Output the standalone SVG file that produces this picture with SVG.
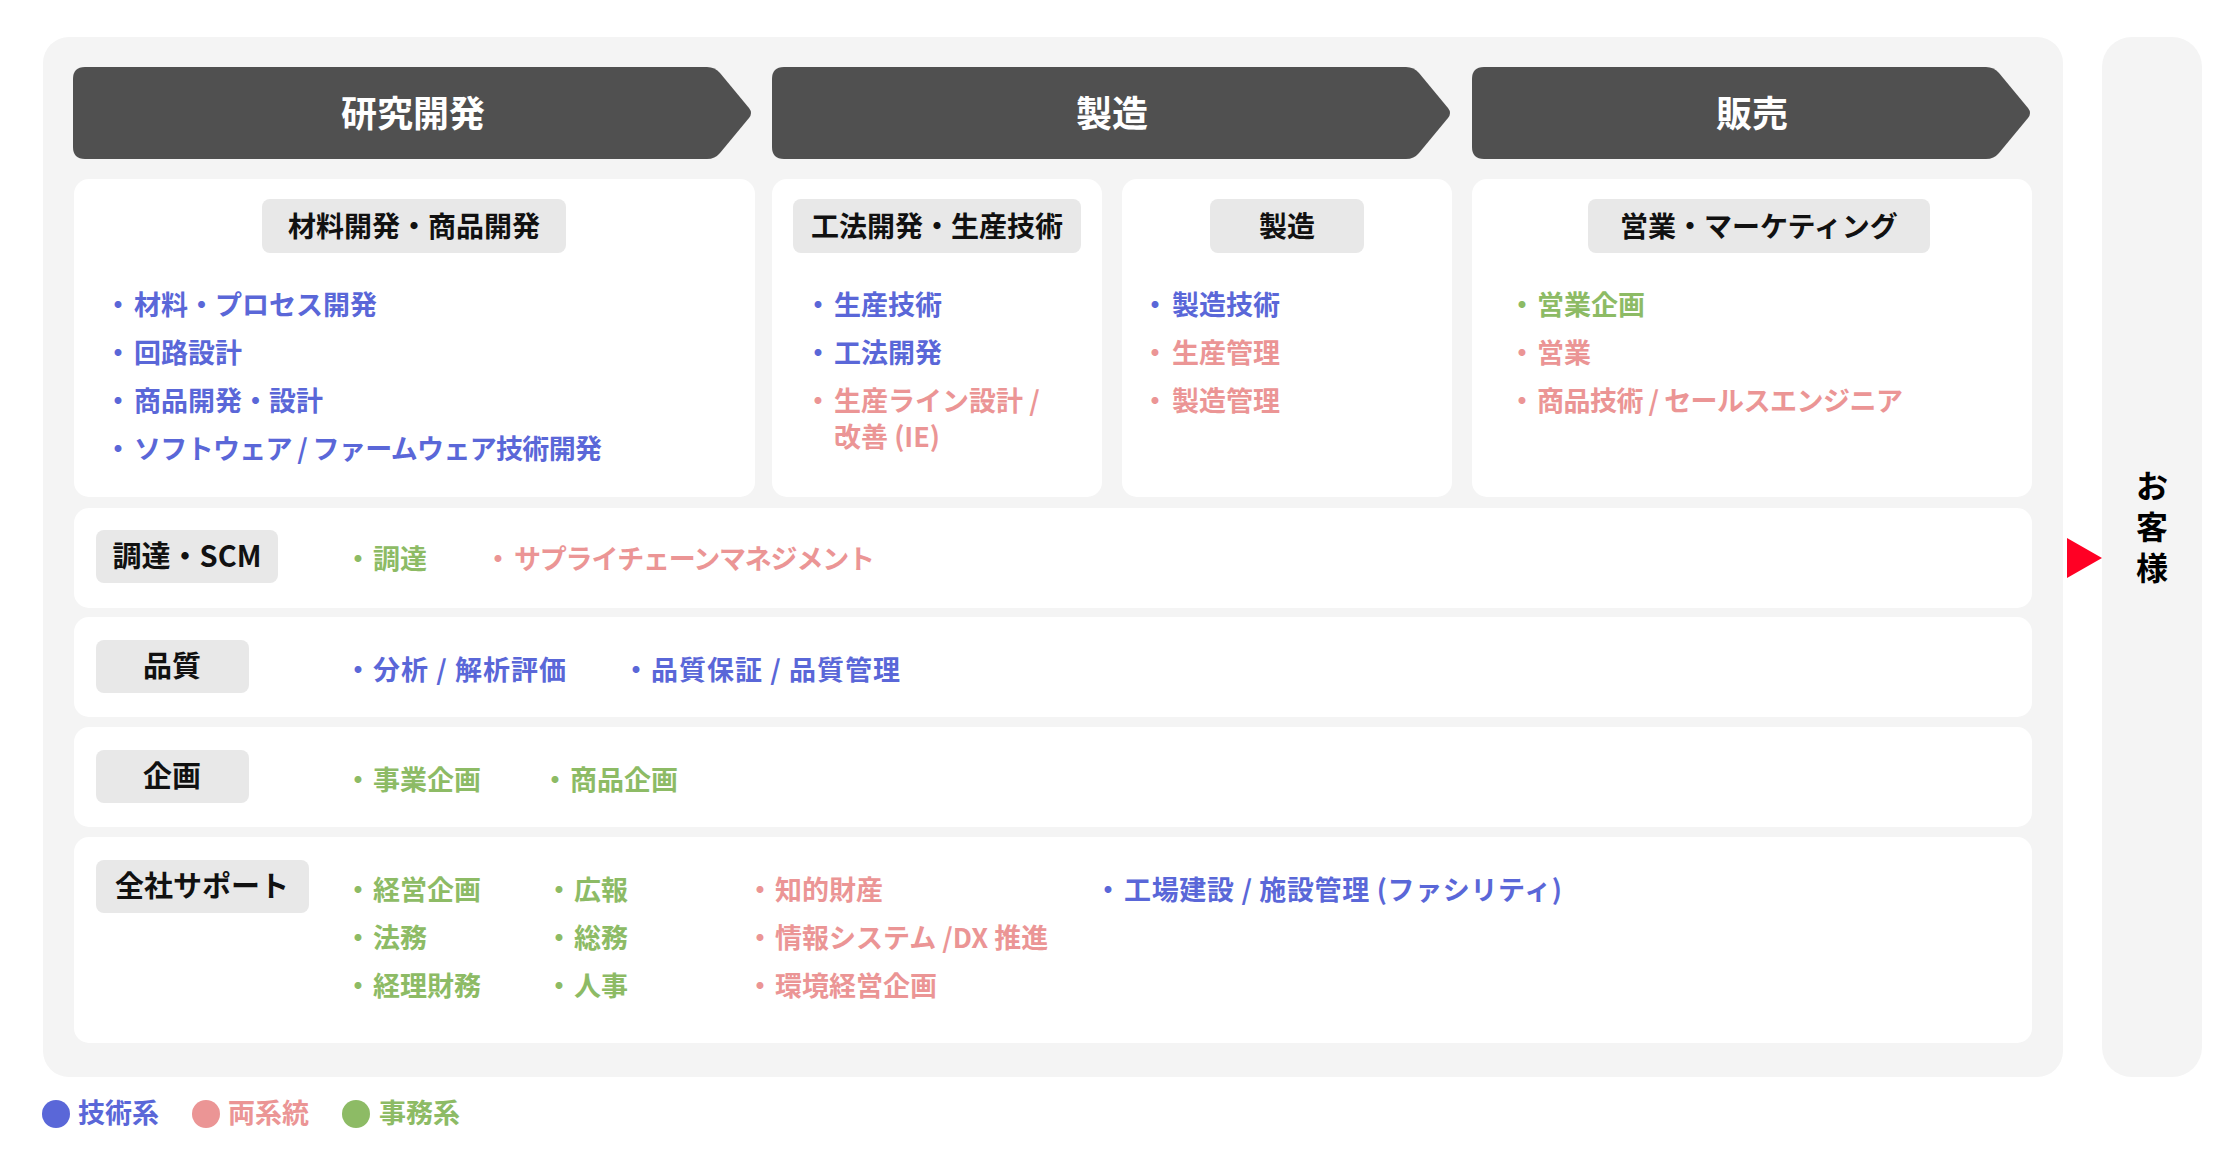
<svg xmlns="http://www.w3.org/2000/svg" width="2240" height="1160" viewBox="0 0 2240 1160">
<defs>
<style>
text{font-family:"Noto Sans CJK JP","Noto Sans",sans-serif;}
.panel{fill:#f4f4f4;}
.card{fill:#ffffff;}
.bar{fill:#505050;}
.bartxt{fill:#ffffff;font-size:36px;font-weight:700;text-anchor:middle;}
.hbox{fill:#e8e8e8;}
.htxt{fill:#111111;font-size:28px;font-weight:700;text-anchor:middle;}
.ltxt{fill:#111111;font-size:29px;font-weight:700;text-anchor:middle;}
.it{font-size:27px;font-weight:600;}
.bl{font-size:27px;font-weight:600;text-anchor:middle;}
.b{fill:#5a67d8;}
.p{fill:#eb9595;}
.g{fill:#8dbb65;}
.cust{fill:#000000;font-size:32px;font-weight:700;text-anchor:middle;}
</style>
</defs>
<rect width="2240" height="1160" fill="#ffffff"/>
<rect id="main-panel" class="panel" x="43" y="37" width="2020" height="1040" rx="26"/>
<g id="customer">
<rect class="panel" x="2102" y="37" width="100" height="1040" rx="30"/>
<text class="cust" x="2152" y="498">お</text>
<text class="cust" x="2152" y="539">客</text>
<text class="cust" x="2152" y="580">様</text>
</g>

<g id="stage-rd">
<path class="bar" d="M85 67 H707 Q715 67 720 73 L749 108 Q753 113 749 118 L720 153 Q715 159 707 159 H85 Q73 159 73 147 V79 Q73 67 85 67 Z"/>
<text class="bartxt" x="413" y="127">研究開発</text>
</g>
<g id="stage-mfg">
<path class="bar" d="M784 67 H1406 Q1414 67 1419 73 L1448 108 Q1452 113 1448 118 L1419 153 Q1414 159 1406 159 H784 Q772 159 772 147 V79 Q772 67 784 67 Z"/>
<text class="bartxt" x="1112" y="127">製造</text>
</g>
<g id="stage-sales">
<path class="bar" d="M1484 67 H1986 Q1994 67 1999 73 L2028 108 Q2032 113 2028 118 L1999 153 Q1994 159 1986 159 H1484 Q1472 159 1472 147 V79 Q1472 67 1484 67 Z"/>
<text class="bartxt" x="1752" y="127">販売</text>
</g>

<g id="card-rd">
<rect class="card" x="74" y="179" width="681" height="318" rx="15"/>
<rect class="hbox" x="262" y="199" width="304" height="54" rx="8"/>
<text class="htxt" x="414" y="237">材料開発・商品開発</text>
<text class="bl b" x="118" y="315">・</text><text class="it b" x="134" y="315">材料・プロセス開発</text>
<text class="bl b" x="118" y="363">・</text><text class="it b" x="134" y="363">回路設計</text>
<text class="bl b" x="118" y="411">・</text><text class="it b" x="134" y="411">商品開発・設計</text>
<text class="bl b" x="118" y="459">・</text><text class="it b" x="134" y="459" textLength="468" lengthAdjust="spacing">ソフトウェア / ファームウェア技術開発</text>
</g>

<g id="card-process">
<rect class="card" x="772" y="179" width="330" height="318" rx="15"/>
<rect class="hbox" x="793" y="199" width="288" height="54" rx="8"/>
<text class="htxt" x="937" y="237">工法開発・生産技術</text>
<text class="bl b" x="818" y="315">・</text><text class="it b" x="834" y="315">生産技術</text>
<text class="bl b" x="818" y="363">・</text><text class="it b" x="834" y="363">工法開発</text>
<text class="bl p" x="818" y="411">・</text><text class="it p" x="834" y="411">生産ライン設計 /</text>
<text class="it p" x="834" y="447">改善 (IE)</text>
</g>

<g id="card-manufacturing">
<rect class="card" x="1122" y="179" width="330" height="318" rx="15"/>
<rect class="hbox" x="1210" y="199" width="154" height="54" rx="8"/>
<text class="htxt" x="1287" y="237">製造</text>
<text class="bl b" x="1155" y="315">・</text><text class="it b" x="1172" y="315">製造技術</text>
<text class="bl p" x="1155" y="363">・</text><text class="it p" x="1172" y="363">生産管理</text>
<text class="bl p" x="1155" y="411">・</text><text class="it p" x="1172" y="411">製造管理</text>
</g>

<g id="card-sales">
<rect class="card" x="1472" y="179" width="560" height="318" rx="15"/>
<rect class="hbox" x="1588" y="199" width="342" height="54" rx="8"/>
<text class="htxt" x="1759" y="237">営業・マーケティング</text>
<text class="bl g" x="1522" y="315">・</text><text class="it g" x="1537" y="315">営業企画</text>
<text class="bl p" x="1522" y="363">・</text><text class="it p" x="1537" y="363">営業</text>
<text class="bl p" x="1522" y="411">・</text><text class="it p" x="1537" y="411" textLength="366" lengthAdjust="spacing">商品技術 / セールスエンジニア</text>
</g>

<g id="row-procurement">
<rect class="card" x="74" y="508" width="1958" height="100" rx="15"/>
<rect class="hbox" x="96" y="530" width="182" height="53" rx="8"/>
<text class="ltxt" x="187" y="567">調達・SCM</text>
<text class="bl g" x="358" y="569">・</text><text class="it g" x="373" y="569">調達</text>
<text class="bl p" x="498" y="569">・</text><text class="it p" x="514" y="569" textLength="361" lengthAdjust="spacing">サプライチェーンマネジメント</text>
</g>

<g id="row-quality">
<rect class="card" x="74" y="617" width="1958" height="100" rx="15"/>
<rect class="hbox" x="96" y="640" width="153" height="53" rx="8"/>
<text class="ltxt" x="172" y="677">品質</text>
<text class="bl b" x="358" y="680">・</text><text class="it b" x="373" y="680" textLength="193" lengthAdjust="spacing">分析 / 解析評価</text>
<text class="bl b" x="636" y="680">・</text><text class="it b" x="651" y="680" textLength="249" lengthAdjust="spacing">品質保証 / 品質管理</text>
</g>

<g id="row-planning">
<rect class="card" x="74" y="727" width="1958" height="100" rx="15"/>
<rect class="hbox" x="96" y="750" width="153" height="53" rx="8"/>
<text class="ltxt" x="172" y="787">企画</text>
<text class="bl g" x="358" y="790">・</text><text class="it g" x="373" y="790">事業企画</text>
<text class="bl g" x="555" y="790">・</text><text class="it g" x="570" y="790">商品企画</text>
</g>

<g id="row-support">
<rect class="card" x="74" y="837" width="1958" height="206" rx="15"/>
<rect class="hbox" x="96" y="860" width="213" height="53" rx="8"/>
<text class="ltxt" x="202" y="897">全社サポート</text>
<text class="bl g" x="358" y="900">・</text><text class="it g" x="373" y="900">経営企画</text>
<text class="bl g" x="358" y="948">・</text><text class="it g" x="373" y="948">法務</text>
<text class="bl g" x="358" y="996">・</text><text class="it g" x="373" y="996">経理財務</text>
<text class="bl g" x="559" y="900">・</text><text class="it g" x="574" y="900">広報</text>
<text class="bl g" x="559" y="948">・</text><text class="it g" x="574" y="948">総務</text>
<text class="bl g" x="559" y="996">・</text><text class="it g" x="574" y="996">人事</text>
<text class="bl p" x="760" y="900">・</text><text class="it p" x="775" y="900">知的財産</text>
<text class="bl p" x="760" y="948">・</text><text class="it p" x="775" y="948">情報システム /DX 推進</text>
<text class="bl p" x="760" y="996">・</text><text class="it p" x="775" y="996">環境経営企画</text>
<text class="bl b" x="1108" y="900">・</text><text class="it b" x="1124" y="900" textLength="438" lengthAdjust="spacing">工場建設 / 施設管理 (ファシリティ)</text>
</g>

<g id="connectors">
<polygon points="2067,538 2102,558 2067,578" fill="#ff0024"/>
</g>

<g id="legend">
<circle cx="56" cy="1114" r="14" fill="#5a67d8"/>
<text class="it b" x="78" y="1123">技術系</text>
<circle cx="206" cy="1114" r="14" fill="#eb9595"/>
<text class="it p" x="228" y="1123">両系統</text>
<circle cx="356" cy="1114" r="14" fill="#8dbb65"/>
<text class="it g" x="379" y="1123">事務系</text>
</g>
</svg>
